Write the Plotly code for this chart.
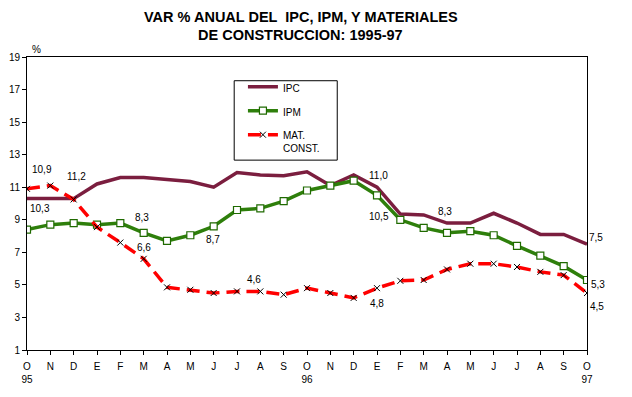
import plotly.graph_objects as go

months = ["O", "N", "D", "E", "F", "M", "A", "M", "J", "J", "A", "S",
          "O", "N", "D", "E", "F", "M", "A", "M", "J", "J", "A", "S", "O"]
years = {0: "95", 12: "96", 24: "97"}

ipc = [10.3, 10.3, 10.3, 11.2, 11.6, 11.6, 11.45, 11.35, 11.0, 11.9, 11.75, 11.7,
       11.95, 11.1, 11.75, 11.0, 9.35, 9.3, 8.8, 8.8, 9.4, 8.8, 8.1, 8.1, 7.5]
ipm = [8.4, 8.7, 8.8, 8.7, 8.8, 8.2, 7.7, 8.05, 8.6, 9.6, 9.7, 10.15,
       10.8, 11.1, 11.4, 10.5, 9.0, 8.5, 8.2, 8.3, 8.05, 7.4, 6.8, 6.15, 5.3]
mat = [10.9, 11.1, 10.25, 8.55, 7.6, 6.6, 4.85, 4.7, 4.5, 4.6, 4.6, 4.4,
       4.8, 4.5, 4.2, 4.8, 5.25, 5.3, 5.95, 6.3, 6.3, 6.1, 5.8, 5.6, 4.5]

# data labels: (x index, y value, text)
labels = [(0.63, 12.09, "10,9"), (0.57, 9.69, "10,3"), (2.12, 11.63, "11,2"),
          (4.91, 9.12, "8,3"), (5.01, 7.28, "6,6"), (7.98, 7.81, "8,7"),
          (9.73, 5.34, "4,6"), (15.06, 11.74, "11,0"), (15.1, 9.22, "10,5"),
          (17.93, 9.48, "8,3"), (15.0, 3.86, "4,8"), (24.39, 7.89, "7,5"),
          (24.48, 5.03, "5,3"), (24.41, 3.70, "4,5")]

title_lines = ["VAR % ANUAL DEL  IPC, IPM, Y MATERIALES", "DE CONSTRUCCION: 1995-97"]

x = list(range(len(months)))
ticktext = [m + "<br>" + years.get(i, "") for i, m in enumerate(months)]

FONT = "Liberation Sans, Arial, sans-serif"
X_MAX = len(months) - 1

fig = go.Figure()
fig.add_trace(go.Scatter(x=x, y=ipc, name="IPC", mode="lines",
                         line=dict(color="#7B1E3F", width=3.5),
                         legendgroup="a"))
fig.add_trace(go.Scatter(x=x, y=ipm, name="IPM", mode="lines+markers",
                         line=dict(color="#2E7F0B", width=3.5),
                         marker=dict(symbol="square", size=7, color="white",
                                     line=dict(color="#1F6A00", width=1.2)),
                         legendgroup="b"))
fig.add_trace(go.Scatter(x=x, y=mat, name="MAT.<br>CONST.", mode="lines+markers",
                         line=dict(color="#FF0000", width=3.5, dash="13px,7px"),
                         marker=dict(symbol="x-thin", size=6, color="black",
                                     line=dict(color="black", width=1)),
                         legendgroup="c"))

for lx, ly, lt in labels:
    # labels lying right of the last category are placed via paper x so they are not hidden
    if lx > X_MAX:
        fig.add_annotation(xref="paper", yref="y", x=lx / X_MAX, y=ly, text=lt,
                           showarrow=False, xanchor="center", yanchor="middle",
                           font=dict(size=10, color="black", family=FONT))
    else:
        fig.add_annotation(x=lx, y=ly, text=lt, showarrow=False,
                           xanchor="center", yanchor="middle",
                           font=dict(size=10, color="black", family=FONT))

fig.add_annotation(xref="paper", yref="paper", x=0.017, y=1.05, text="%",
                   showarrow=False, xanchor="center",
                   font=dict(size=10, color="black", family=FONT))

for ty, tl in zip([1.136, 1.075], title_lines):
    fig.add_annotation(xref="paper", yref="paper", x=0.489, y=ty, text="<b>" + tl + "</b>",
                       showarrow=False, xanchor="center", yanchor="middle",
                       font=dict(size=14.5, color="black", family=FONT))

# legend frame
fig.add_shape(type="rect", xref="paper", yref="paper", x0=0.370, x1=0.554,
              y0=0.648, y1=0.919, line=dict(color="black", width=1),
              fillcolor="white", layer="below")

fig.update_layout(
    width=624, height=389,
    margin=dict(l=19.3, r=45.3, t=49, b=47, autoexpand=False),
    paper_bgcolor="white", plot_bgcolor="rgba(0,0,0,0)",
    font=dict(family=FONT, size=10, color="black"),
    showlegend=True,
    legend=dict(x=0.3856, y=0.943, xanchor="left", yanchor="top",
                borderwidth=0, bgcolor="rgba(0,0,0,0)",
                font=dict(size=10, family=FONT), tracegroupgap=5,
                valign="top"),
    xaxis=dict(range=[0, X_MAX], tickmode="array", tickvals=x, ticktext=ticktext,
               showline=True, linecolor="black", linewidth=1, mirror=True,
               ticks="outside", ticklen=4, tickcolor="black", showgrid=False,
               zeroline=False, tickfont=dict(size=10), automargin=False,
               ticklabelstandoff=3),
    yaxis=dict(range=[1, 19], tickmode="linear", tick0=1, dtick=2,
               showline=True, linecolor="black", linewidth=1, mirror=True,
               ticks="outside", ticklen=4, tickcolor="black", showgrid=False,
               zeroline=False, tickfont=dict(size=10), automargin=False),
)

fig.write_html("out.html")
